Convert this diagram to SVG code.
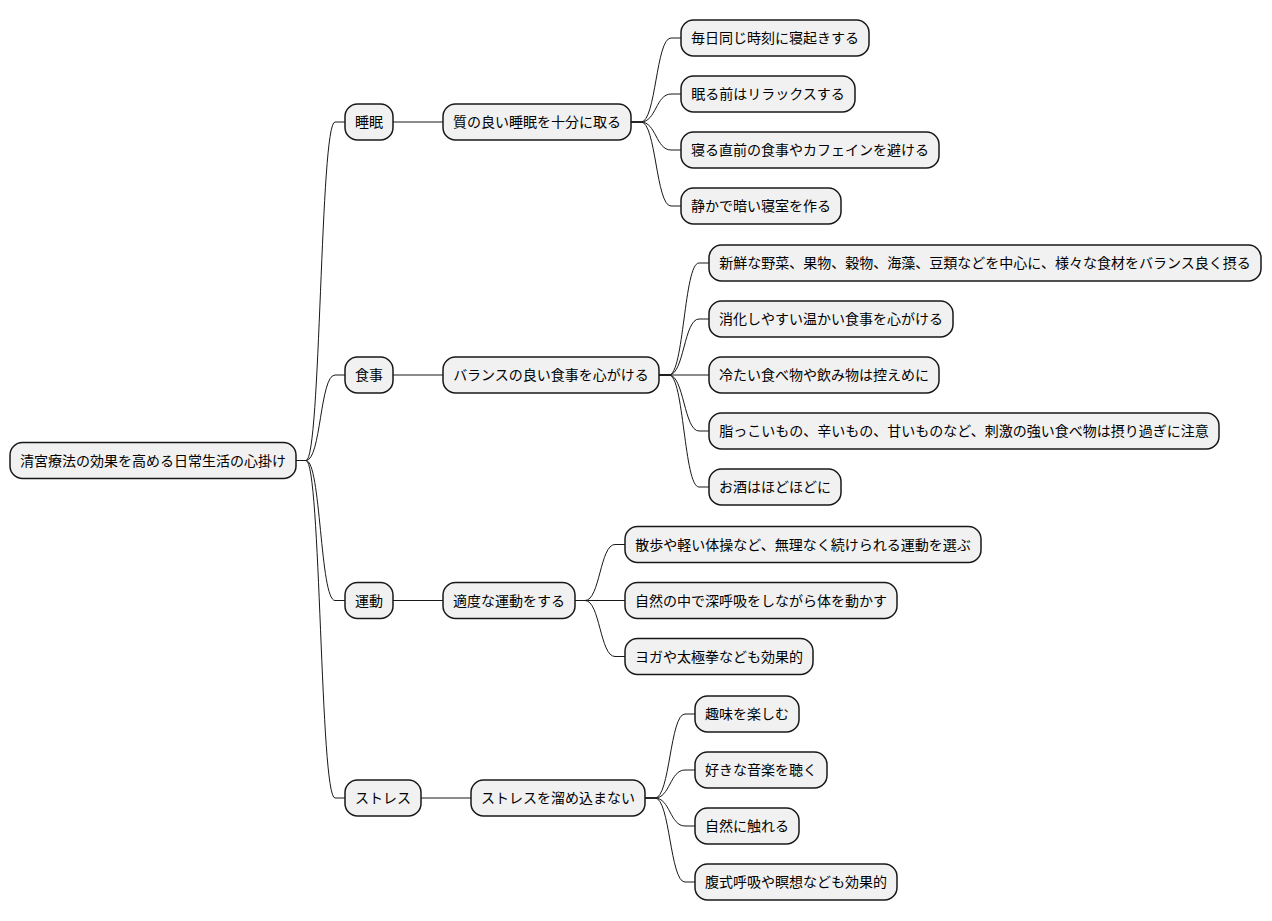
<svg xmlns="http://www.w3.org/2000/svg" width="1272" height="921" viewBox="0 0 1272 921">
<style>
.n rect{fill:#F1F1F1;stroke:#181818;stroke-width:1.5}
.n text{font-family:"Noto Sans CJK JP","Noto Sans",sans-serif;font-size:14px;fill:#000000;text-anchor:middle}
.c path{fill:none;stroke:#181818;stroke-width:1}
</style>
<rect width="1272" height="921" fill="#FFFFFF"/>
<g class="c" id="connectors">
<path d="M296,460.5 L306,460.5 C321,460.5 320,122 335,122 L345,122"/>
<path d="M296,460.5 L306,460.5 C321,460.5 320,375 335,375 L345,375"/>
<path d="M296,460.5 L306,460.5 C321,460.5 320,600.5 335,600.5 L345,600.5"/>
<path d="M296,460.5 L306,460.5 C321,460.5 320,798 335,798 L345,798"/>
<path d="M393,122 L443,122"/>
<path d="M393,375 L443,375"/>
<path d="M393,600.5 L443,600.5"/>
<path d="M421,798 L471,798"/>
<path d="M631,122 L641,122 C656,122 656,38 671,38 L681,38"/>
<path d="M631,122 L641,122 C656,122 656,94 671,94 L681,94"/>
<path d="M631,122 L641,122 C656,122 656,150 671,150 L681,150"/>
<path d="M631,122 L641,122 C656,122 656,206 671,206 L681,206"/>
<path d="M659,375 L669,375 C684,375 684,263 699,263 L709,263"/>
<path d="M659,375 L669,375 C684,375 684,319 699,319 L709,319"/>
<path d="M659,375 L709,375"/>
<path d="M659,375 L669,375 C684,375 684,431 699,431 L709,431"/>
<path d="M659,375 L669,375 C684,375 684,487 699,487 L709,487"/>
<path d="M575,600.5 L585,600.5 C600,600.5 600,544.5 615,544.5 L625,544.5"/>
<path d="M575,600.5 L625,600.5"/>
<path d="M575,600.5 L585,600.5 C600,600.5 600,656.5 615,656.5 L625,656.5"/>
<path d="M645,798 L655,798 C670,798 670,714 685,714 L695,714"/>
<path d="M645,798 L655,798 C670,798 670,770 685,770 L695,770"/>
<path d="M645,798 L655,798 C670,798 670,826 685,826 L695,826"/>
<path d="M645,798 L655,798 C670,798 670,882 685,882 L695,882"/>
</g>
<g class="n" id="root"><rect x="10" y="442.5" width="286" height="36" rx="12.5"/><text x="153" y="465.5">清宮療法の効果を高める日常生活の心掛け</text></g>
<g class="n" id="sleep"><rect x="345" y="104" width="48" height="36" rx="12.5"/><text x="369" y="127">睡眠</text></g>
<g class="n" id="diet"><rect x="345" y="357" width="48" height="36" rx="12.5"/><text x="369" y="380">食事</text></g>
<g class="n" id="exercise"><rect x="345" y="582.5" width="48" height="36" rx="12.5"/><text x="369" y="605.5">運動</text></g>
<g class="n" id="stress"><rect x="345" y="780" width="76" height="36" rx="12.5"/><text x="383" y="803">ストレス</text></g>
<g class="n" id="sleep-main"><rect x="443" y="104" width="188" height="36" rx="12.5"/><text x="537" y="127">質の良い睡眠を十分に取る</text></g>
<g class="n" id="diet-main"><rect x="443" y="357" width="216" height="36" rx="12.5"/><text x="551" y="380">バランスの良い食事を心がける</text></g>
<g class="n" id="exercise-main"><rect x="443" y="582.5" width="132" height="36" rx="12.5"/><text x="509" y="605.5">適度な運動をする</text></g>
<g class="n" id="stress-main"><rect x="471" y="780" width="174" height="36" rx="12.5"/><text x="558" y="803">ストレスを溜め込まない</text></g>
<g class="n" id="s1"><rect x="681" y="20" width="188" height="36" rx="12.5"/><text x="775" y="43">毎日同じ時刻に寝起きする</text></g>
<g class="n" id="s2"><rect x="681" y="76" width="174" height="36" rx="12.5"/><text x="768" y="99">眠る前はリラックスする</text></g>
<g class="n" id="s3"><rect x="681" y="132" width="258" height="36" rx="12.5"/><text x="810" y="155">寝る直前の食事やカフェインを避ける</text></g>
<g class="n" id="s4"><rect x="681" y="188" width="160" height="36" rx="12.5"/><text x="761" y="211">静かで暗い寝室を作る</text></g>
<g class="n" id="d1"><rect x="709" y="245" width="552" height="36" rx="12.5"/><text x="985" y="268">新鮮な野菜、果物、穀物、海藻、豆類などを中心に、様々な食材をバランス良く摂る</text></g>
<g class="n" id="d2"><rect x="709" y="301" width="244" height="36" rx="12.5"/><text x="831" y="324">消化しやすい温かい食事を心がける</text></g>
<g class="n" id="d3"><rect x="709" y="357" width="230" height="36" rx="12.5"/><text x="824" y="380">冷たい食べ物や飲み物は控えめに</text></g>
<g class="n" id="d4"><rect x="709" y="413" width="510" height="36" rx="12.5"/><text x="964" y="436">脂っこいもの、辛いもの、甘いものなど、刺激の強い食べ物は摂り過ぎに注意</text></g>
<g class="n" id="d5"><rect x="709" y="469" width="132" height="36" rx="12.5"/><text x="775" y="492">お酒はほどほどに</text></g>
<g class="n" id="e1"><rect x="625" y="526.5" width="356" height="36" rx="12.5"/><text x="803" y="549.5">散歩や軽い体操など、無理なく続けられる運動を選ぶ</text></g>
<g class="n" id="e2"><rect x="625" y="582.5" width="272" height="36" rx="12.5"/><text x="761" y="605.5">自然の中で深呼吸をしながら体を動かす</text></g>
<g class="n" id="e3"><rect x="625" y="638.5" width="188" height="36" rx="12.5"/><text x="719" y="661.5">ヨガや太極拳なども効果的</text></g>
<g class="n" id="t1"><rect x="695" y="696" width="104" height="36" rx="12.5"/><text x="747" y="719">趣味を楽しむ</text></g>
<g class="n" id="t2"><rect x="695" y="752" width="132" height="36" rx="12.5"/><text x="761" y="775">好きな音楽を聴く</text></g>
<g class="n" id="t3"><rect x="695" y="808" width="104" height="36" rx="12.5"/><text x="747" y="831">自然に触れる</text></g>
<g class="n" id="t4"><rect x="695" y="864" width="202" height="36" rx="12.5"/><text x="796" y="887">腹式呼吸や瞑想なども効果的</text></g>
</svg>
